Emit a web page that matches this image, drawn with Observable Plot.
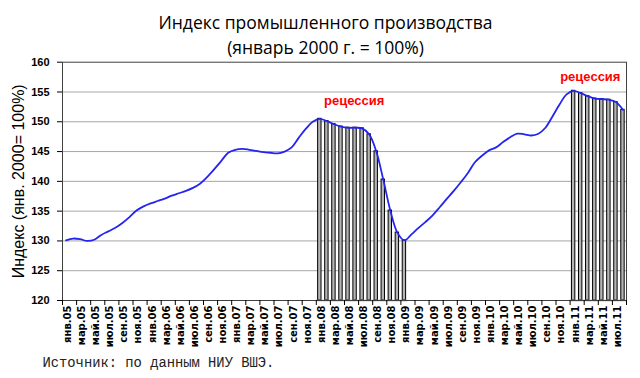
<!DOCTYPE html>
<html><head><meta charset="utf-8">
<script src="https://cdn.jsdelivr.net/npm/d3@7"></script>
<script src="https://cdn.jsdelivr.net/npm/@observablehq/plot@0.6"></script>
<style>body{margin:0;background:#fff} svg{display:block}</style>
</head><body><div id="chart"></div>
<script>
const monthNames = ["янв","фев","мар","апр","май","июн","июл","авг","сен","окт","ноя","дек"];
const years = ["05","06","07","08","09","10","11"];
const tickLabels = ["янв.05","мар.05","май.05","июл.05","сен.05","ноя.05",
  "янв.06","мар.06","май.06","июл.06","сен.06","ноя.06",
  "янв.07","мар.07","май.07","июл.07","сен.07","ноя.07",
  "янв.08","мар.08","май.08","июл.08","сен.08","ноя.08",
  "янв.09","мар.09","май.09","июл.09","сен.09","ноя.09",
  "янв.10","мар.10","май.10","июл.10","сен.10","ноя.10",
  "янв.11","мар.11","май.11","июл.11"];
const yTicks = [120,125,130,135,140,145,150,155,160];

const index2005 = [130.1,130.4,130.3,130.0,130.2,131.0,131.6,132.2,133.0,134.0,135.1,135.8];
const index2006 = [136.3,136.7,137.1,137.6,138.0,138.4,138.9,139.6,140.7,142.0,143.4,144.8];
const index2007 = [145.3,145.45,145.3,145.1,144.9,144.8,144.7,145.0,145.7,147.3,148.8,150.0];
const index2008 = [150.5,150.1,149.6,149.2,149.0,149.0,148.9,147.9,145.05,140.3,135.1,131.4];
const index2009 = [130.1,131.1,132.2,133.2,134.3,135.65,137.05,138.4,139.85,141.4,143.2,144.3];
const index2010 = [145.2,145.7,146.6,147.4,148.0,147.9,147.7,148.0,149.0,150.9,152.9,154.6];
const index2011 = [155.2,154.8,154.3,153.9,153.8,153.7,153.3,152.0];

const recessions = [["янв.08","янв.09"],["янв.11","авг.11"]];

const values = [...index2005,...index2006,...index2007,...index2008,...index2009,...index2010,...index2011];
const months = years.flatMap(y => monthNames.map(m => `${m}.${y}`)).slice(0, values.length);
const data = months.map((m, i) => ({m, i, v: values[i]}));
const ranges = recessions.map(([a, b]) => ({a: months.indexOf(a), b: months.indexOf(b)}));
const recData = data.filter(d => ranges.some(r => d.i >= r.a && d.i <= r.b));
const labelData = data.filter(d => tickLabels.includes(d.m));
const recLabels = ranges.map(r => ({mid: (r.a + r.b + 1) / 2, top: d3.max(values.slice(r.a, r.b + 1))}));

const chart = Plot.plot({
  width: 640, height: 378,
  marginTop: 61.7, marginBottom: 78, marginLeft: 62, marginRight: 14,
  x: {domain: [0, months.length], axis: null, label: null},
  y: {domain: [120, 160], axis: null, label: null},
  style: {fontFamily: "'Liberation Sans', Arial, sans-serif", background: "white", color: "#000"},
  marks: [
    Plot.ruleY(yTicks.slice(1, -1), {stroke: "#a6a6a6", strokeWidth: 1}),
    Plot.rectY(recData, {x1: d => d.i + 0.26, x2: d => d.i + 0.74, y1: 120, y2: "v", fill: "#b4b4b4", stroke: "#000", strokeWidth: 1}),
    Plot.ruleY(ranges, {y: 120, x1: d => d.a, x2: d => d.b + 1, stroke: "#ff44ff", strokeWidth: 1.5}),
    Plot.frame({stroke: "#404040"}),
    Plot.line(data, {x: d => d.i + 0.5, y: "v", curve: "catmull-rom", stroke: "#2424f0", strokeWidth: 1.8}),
    Plot.axisY({ticks: yTicks, tickSize: 5, tickPadding: 8, fontSize: 11, fontWeight: "bold", stroke: "#000", label: null}),
    Plot.axisX({ticks: d3.range(0, months.length + 1, 2), tickSize: 5, tickFormat: () => "", stroke: "#000", label: null}),
    Plot.text(labelData, {x: d => d.i + 0.75, y: () => 120, text: "m", rotate: -90, textAnchor: "end", dy: 5,
      fontFamily: "'DejaVu Sans', Verdana, sans-serif", fontWeight: "bold", fontSize: 10, fill: "#000"}),
    Plot.text(recLabels.slice(0, 1), {x: "mid", y: "top", text: () => "рецессия", dx: -8, dy: -14, lineAnchor: "bottom",
      fill: "#ff0000", fontWeight: "bold", fontSize: 13}),
    Plot.text(recLabels.slice(1), {x: "mid", y: "top", text: () => "рецессия", dx: -8, dy: -10, lineAnchor: "bottom",
      fill: "#ff0000", fontWeight: "bold", fontSize: 13}),
    Plot.text(["Индекс промышленного производства"], {frameAnchor: "top", dx: -19, dy: 28 - 61.7, lineAnchor: "bottom",
      fontFamily: "'Open Sans', sans-serif", fontSize: 17.5, fill: "#000"}),
    Plot.text(["(январь 2000 г. = 100%)"], {frameAnchor: "top", dx: -19, dy: 53 - 61.7, lineAnchor: "bottom",
      fontFamily: "'Open Sans', sans-serif", fontSize: 17.5, fill: "#000"}),
    Plot.text(["Индекс (янв. 2000= 100%)"], {frameAnchor: "left", dx: -43.5, dy: 0, rotate: -90, textAnchor: "middle", lineAnchor: "middle",
      fontSize: 16, fill: "#000"}),
    Plot.text(["Источник: по данным НИУ ВШЭ."], {frameAnchor: "bottom-left", dx: -20, dy: 66, textAnchor: "start", lineAnchor: "bottom",
      fontFamily: "'Liberation Mono', 'DejaVu Sans Mono', monospace", fontSize: 13.8, fill: "#222"})
  ]
});
document.getElementById("chart").append(chart);
</script>
</body></html>
